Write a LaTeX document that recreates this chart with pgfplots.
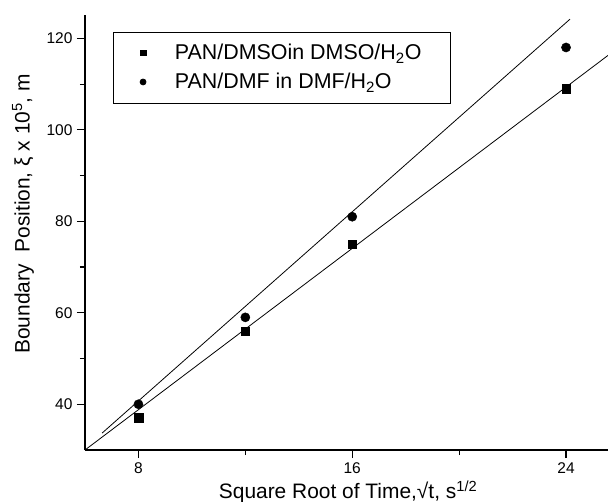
\documentclass[border=0pt]{standalone}
\usepackage{fontspec}
\setmainfont{Liberation Sans}
\usepackage{pgfplots}
\pgfplotsset{compat=1.18}
\newcommand{\tickfont}{\fontsize{15.5bp}{17bp}\selectfont}
\begin{document}
\begin{tikzpicture}
\useasboundingbox (-85bp,-52bp) rectangle (523bp,450bp); % page = 608 x 502
\begin{axis}[
    at={(0,0)}, anchor=south west,
    scale only axis,
    width=523bp, height=435bp,
    xmin=6, xmax=25.57,
    ymin=30, ymax=125.1,
    axis x line*=bottom,
    axis y line*=left,
    axis line style={line width=1.2pt},
    xtick={8,16,24},
    ytick={40,60,80,100,120},
    minor x tick num=1,
    minor y tick num=1,
    tick align=outside,
    major tick length=8bp,
    minor tick length=5bp,
    tick style={line width=1.1pt, black},
    /pgf/number format/assume math mode=true,
    xticklabel={\tickfont\pgfmathprintnumber{\tick}},
    yticklabel={\tickfont\pgfmathprintnumber{\tick}},
    xticklabel style={yshift=-1bp},
    yticklabel style={xshift=-1bp},
    xlabel={Square Root of Time,√t, s\textsuperscript{1/2}},
    ylabel={Boundary\ \ Position, ξ x 10\textsuperscript{5}, m},
    label style={font=\fontsize{21}{24}\selectfont},
    xlabel style={at={(axis description cs:0.503,-0.1126)}, anchor=base},
    ylabel style={at={(axis description cs:-0.1186,0.543)}, anchor=center, rotate=0},
    legend style={
        at={(axis description cs:0.053,0.962)}, anchor=north west,
        draw=black, line width=0.9pt,
        font=\fontsize{21.5}{24}\selectfont,
        inner xsep=27bp, inner ysep=10.5bp,
        row sep=8bp, column sep=27bp,
        cells={anchor=west},
    },
    legend image code/.code={%
        \draw[mark size=2.9bp] plot coordinates {(0bp,0bp)};},
]
% fitted lines
\addplot[black, line width=0.8pt, forget plot] coordinates {(6,30) (25.6,116.4)};
\addplot[black, line width=0.8pt, forget plot] coordinates {(6.64,33.7) (24.15,124.2)};
% data
\addplot[only marks, mark=square*, mark size=4.3bp, black] coordinates {
    (8,37) (12,56) (16,75) (24,109)};
\addplot[only marks, mark=*, mark size=4.6bp, black] coordinates {
    (8,40) (12,59) (16,81) (24,118)};
\legend{PAN/DMSOin DMSO/H\textsubscript{2}O, PAN/DMF in DMF/H\textsubscript{2}O}
\end{axis}
\end{tikzpicture}
\end{document}
